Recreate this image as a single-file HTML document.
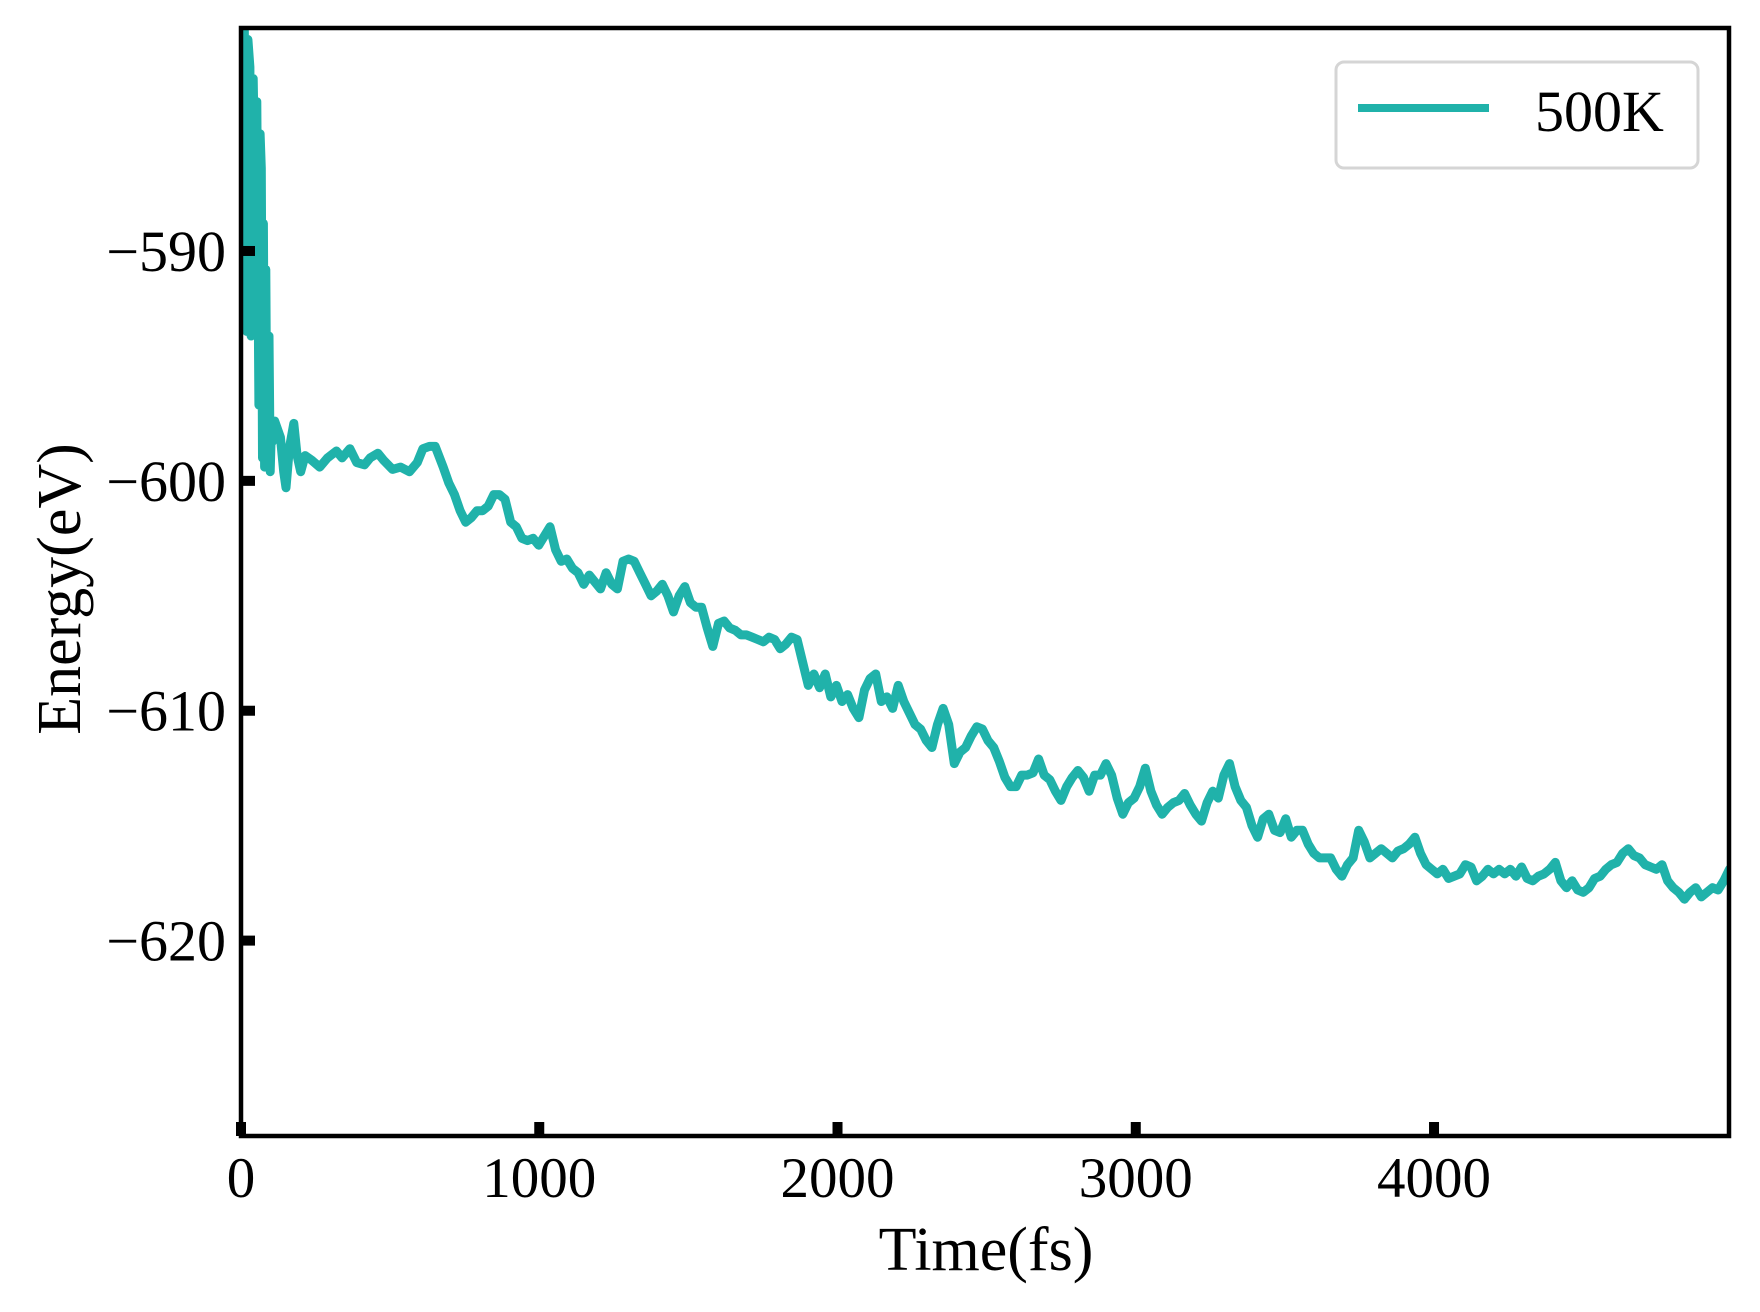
<!DOCTYPE html>
<html><head><meta charset="utf-8"><style>
html,body{margin:0;padding:0;background:#fff}
svg{display:block}
text{font-family:"Liberation Serif","DejaVu Serif",serif;fill:#000}
</style></head><body>
<svg id="chart" width="1760" height="1312" viewBox="0 0 1760 1312" xmlns="http://www.w3.org/2000/svg">
<g id="plot"></g>
<g id="axes"></g>
<text x="986" y="1270" font-size="62" text-anchor="middle">Time(fs)</text>
<text transform="translate(80,589) rotate(-90)" font-size="62" text-anchor="middle">Energy(eV)</text>
<g>
<rect x="1336" y="62" width="362" height="106" rx="8" fill="#fff" stroke="#d5d5d5" stroke-width="3"/>
<line x1="1358" y1="108" x2="1489" y2="108" stroke="#20b2aa" stroke-width="8"/>
<text x="1535" y="131" font-size="58">500K</text>
</g>
</svg>
<script>
const earlyTimes = [0,11,19,23,30,34,41,49,53,60,64,68,72,75,79,83,87,90,94,98,102,105,113,132,143,151,162,177,188,200,215,237,264,290,320,339,365,388,414,433,459,478,508,535,565,591,610,632,651,678];
const earlyEnergy = [-580.3,-580.3,-593.5,-580.8,-582.0,-593.7,-582.5,-588.8,-583.5,-596.7,-584.9,-586.4,-599.0,-588.8,-599.4,-590.8,-598.6,-597.7,-593.7,-599.6,-597.7,-598.3,-597.4,-598.1,-599.6,-600.3,-598.6,-597.5,-598.9,-599.6,-598.9,-599.1,-599.4,-599.0,-598.7,-599.0,-598.6,-599.2,-599.3,-599.0,-598.8,-599.1,-599.5,-599.4,-599.6,-599.2,-598.6,-598.5,-598.5,-599.4];
const sampleStart = 697;
const sampleStep = 18.83;
const sampledEnergy = [-600.1,-600.6,-601.3,-601.8,-601.6,-601.3,-601.3,-601.1,-600.6,-600.6,-600.8,-601.8,-602.0,-602.5,-602.6,-602.5,-602.8,-602.4,-602.0,-603.0,-603.5,-603.4,-603.8,-604.0,-604.5,-604.1,-604.4,-604.7,-604.0,-604.5,-604.7,-603.5,-603.4,-603.5,-604.0,-604.5,-605.0,-604.8,-604.5,-605.0,-605.7,-605.0,-604.6,-605.3,-605.5,-605.5,-606.4,-607.2,-606.2,-606.1,-606.4,-606.5,-606.7,-606.7,-606.8,-606.9,-607.0,-606.8,-606.9,-607.3,-607.1,-606.8,-606.9,-607.9,-608.9,-608.4,-609.0,-608.4,-609.4,-608.9,-609.6,-609.3,-609.9,-610.3,-609.1,-608.6,-608.4,-609.6,-609.4,-609.9,-608.9,-609.6,-610.1,-610.6,-610.8,-611.3,-611.6,-610.6,-609.9,-610.6,-612.3,-611.8,-611.6,-611.1,-610.7,-610.8,-611.3,-611.6,-612.2,-612.9,-613.3,-613.3,-612.8,-612.8,-612.7,-612.1,-612.8,-613.0,-613.5,-613.9,-613.3,-612.9,-612.6,-612.9,-613.5,-612.8,-612.8,-612.3,-612.8,-613.8,-614.5,-614.0,-613.8,-613.3,-612.5,-613.5,-614.1,-614.5,-614.2,-614.0,-613.9,-613.6,-614.1,-614.5,-614.8,-614.0,-613.5,-613.8,-612.8,-612.3,-613.3,-613.9,-614.2,-615.0,-615.5,-614.7,-614.5,-615.2,-615.3,-614.7,-615.5,-615.2,-615.2,-615.8,-616.2,-616.4,-616.4,-616.4,-616.9,-617.2,-616.7,-616.4,-615.2,-615.7,-616.4,-616.2,-616.0,-616.2,-616.4,-616.1,-616.0,-615.8,-615.5,-616.2,-616.7,-616.9,-617.1,-616.9,-617.3,-617.2,-617.1,-616.7,-616.8,-617.4,-617.2,-616.9,-617.1,-616.9,-617.1,-616.9,-617.2,-616.8,-617.3,-617.4,-617.2,-617.1,-616.9,-616.6,-617.4,-617.7,-617.4,-617.8,-617.9,-617.7,-617.3,-617.2,-616.9,-616.7,-616.6,-616.2,-616.0,-616.3,-616.4,-616.7,-616.8,-616.9,-616.7,-617.4,-617.7,-617.9,-618.2,-617.9,-617.7,-618.1,-617.9,-617.7,-617.8,-617.4,-616.9];
const xTicks = [0,1000,2000,3000,4000];
const yTicks = [-590,-600,-610,-620];
const xLimits = [0,4989];
const yLimits = [-628.5,-580.3];

const L=241,R=1729,T=28,B=1136;
const NS='http://www.w3.org/2000/svg';
function xs(t){return L+(t-xLimits[0])/(xLimits[1]-xLimits[0])*(R-L);}
function ys(v){return B-(v-yLimits[0])/(yLimits[1]-yLimits[0])*(B-T);}
function mk(tag,attrs,parent){const e=document.createElementNS(NS,tag);for(const k in attrs)e.setAttribute(k,attrs[k]);parent.appendChild(e);return e;}

const plot=document.getElementById('plot');
const axes=document.getElementById('axes');
const clip=mk('clipPath',{id:'clip'},mk('defs',{},plot));
mk('rect',{x:L,y:T,width:R-L,height:B-T},clip);

const pts=[];
for(let i=0;i<earlyTimes.length;i++)pts.push([earlyTimes[i],earlyEnergy[i]]);
for(let i=0;i<sampledEnergy.length;i++)pts.push([sampleStart+i*sampleStep,sampledEnergy[i]]);
const d=pts.map((p,i)=>(i?'L':'M')+xs(p[0]).toFixed(1)+','+ys(p[1]).toFixed(1)).join('');
const line=mk('path',{d:d,fill:'none',stroke:'#20b2aa','stroke-width':9,'stroke-linejoin':'round','stroke-linecap':'round','clip-path':'url(#clip)'},plot);



xTicks.forEach(v=>{
  const x=xs(v);
  const tk=mk('rect',{x:x-5,y:B-14,width:10,height:14,fill:'#000'},axes);
  
  
  const lb=mk('text',{x:x,y:1197,'font-size':57,'text-anchor':'middle'},axes);
  lb.textContent=String(v);
  
  
});
yTicks.forEach(v=>{
  const y=ys(v);
  const tk=mk('rect',{x:L,y:y-5,width:14,height:10,fill:'#000'},axes);
  
  
  const lb=mk('text',{x:226,y:y+20,'font-size':58,'text-anchor':'end'},axes);
  lb.textContent='\u2212'+String(Math.abs(v));
  
  
});
const frame=mk('rect',{x:L,y:T,width:R-L,height:B-T,fill:'none',stroke:'#000','stroke-width':4.5},axes);


</script>
</body></html>
